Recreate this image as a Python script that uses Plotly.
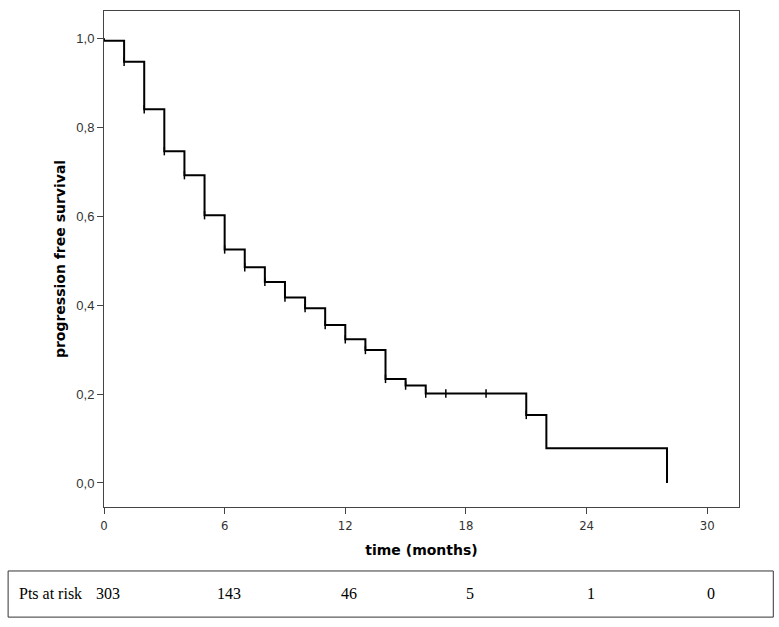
import plotly.graph_objects as go

# Kaplan-Meier estimate (time in months, survival)
times = [0, 0, 1, 2, 3, 4, 5, 6, 7, 8, 9, 10, 11, 12, 13, 14, 15, 16, 21, 22, 28]
surv = [1.0, 0.994, 0.947, 0.840, 0.746, 0.692, 0.602, 0.525, 0.485, 0.452, 0.417,
        0.393, 0.355, 0.323, 0.299, 0.234, 0.219, 0.201, 0.153, 0.078, 0.0]
censored = [1, 2, 3, 4, 5, 6, 7, 8, 9, 10, 11, 12, 13, 14, 15, 16, 17, 19, 21]

risk_times = [0, 6, 12, 18, 24, 30]
at_risk = [303, 143, 46, 5, 1, 0]


def surv_at(t):
    s = surv[0]
    for ti, si in zip(times, surv):
        if ti <= t:
            s = si
    return s


fig = go.Figure()
fig.add_trace(go.Scatter(x=times, y=surv, mode="lines", line_shape="hv",
                         line=dict(color="black", width=2), hoverinfo="skip"))
fig.add_trace(go.Scatter(x=censored, y=[surv_at(t) for t in censored], mode="markers",
                         marker=dict(symbol="line-ns-open", size=6, color="black",
                                     line=dict(color="black", width=1.5)),
                         hoverinfo="skip"))

tick_font = dict(family="Liberation Sans, Arial, sans-serif", size=13, color="#333")
fig.update_xaxes(range=[0, 31.58], tickvals=[0, 6, 12, 18, 24, 30],
                 ticks="outside", ticklen=6, tickcolor="#444",
                 showline=True, linecolor="#444", linewidth=1, mirror=True,
                 showgrid=False, zeroline=False,
                 tickfont=dict(family="Liberation Sans Narrow, DejaVu Sans Condensed, sans-serif",
                               size=13, color="#333"),
                 title=dict(text="<b>time (months)</b>", standoff=13,
                            font=dict(family="DejaVu Sans, sans-serif", size=14, color="black")))
fig.update_yaxes(range=[-0.054, 1.061], tickvals=[0, 0.2, 0.4, 0.6, 0.8, 1.0],
                 tickformat=".1f", ticks="outside", ticklen=6, tickcolor="#444",
                 showline=True, linecolor="#444", linewidth=1, mirror=True,
                 showgrid=False, zeroline=False, tickfont=tick_font,
                 title=dict(text="<b>progression free survival</b>", standoff=7,
                            font=dict(family="DejaVu Sans, sans-serif", size=14, color="black")))

# number at risk table below the plot
fig.add_shape(type="rect", xref="paper", yref="paper", x0=-0.151, x1=1.054,
              y0=-0.222, y1=-0.129, line=dict(color="#333", width=1))
fig.add_annotation(xref="paper", yref="paper", x=-0.137, y=-0.175, xanchor="left",
                   yanchor="middle", text="Pts at risk", showarrow=False,
                   font=dict(family="Liberation Serif, serif", size=16, color="black"))
for t, n in zip(risk_times, at_risk):
    fig.add_annotation(xref="x", yref="paper", x=t + 0.2, y=-0.175, yanchor="middle",
                       text=str(n), showarrow=False,
                       font=dict(family="Liberation Serif, serif", size=16, color="black"))

fig.update_layout(width=779, height=627, separators=",.",
                  margin=dict(l=104, r=40, t=11, b=120),
                  plot_bgcolor="white", paper_bgcolor="white", showlegend=False)

fig.write_html("out.html", config={"displayModeBar": False},
               post_script="document.body.style.margin='0';")
